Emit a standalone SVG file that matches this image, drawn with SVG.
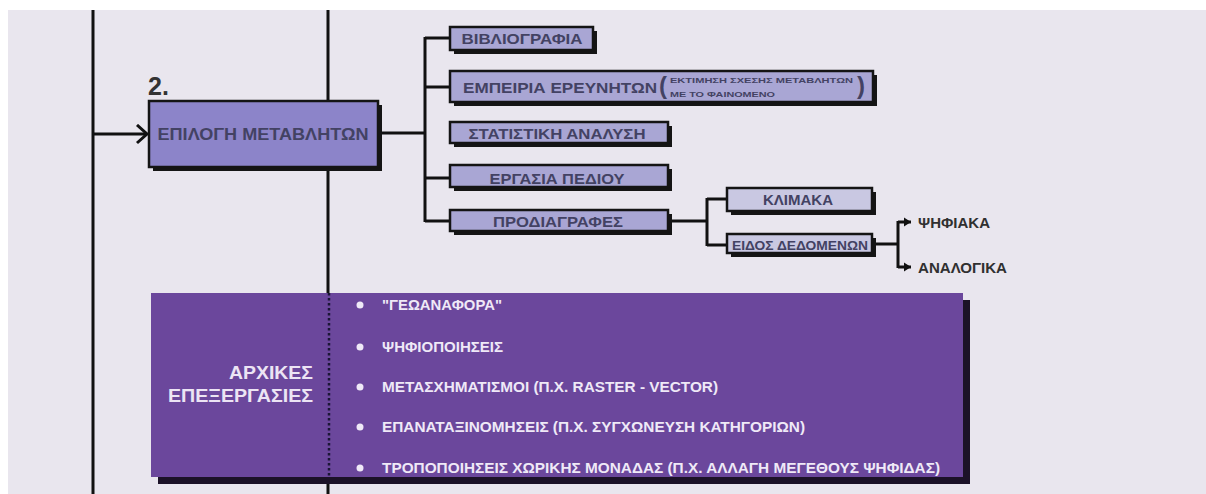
<svg xmlns="http://www.w3.org/2000/svg" width="1206" height="494" viewBox="0 0 1206 494">
  <style>
    text { font-family: "Liberation Sans", Arial, sans-serif; font-weight: bold; }
    .box { fill: #a9a6d4; stroke: #141414; stroke-width: 2.5; }
    .boxmain { fill: #8c84c9; stroke: #141414; stroke-width: 2.5; }
    .boxlight { fill: #c9c8e2; stroke: #141414; stroke-width: 2.5; }
    .shadow { fill: #151515; }
    .lbl { fill: #434263; text-anchor: middle; }
    .out { fill: #303030; }
    .wire { fill: none; stroke: #111; stroke-width: 3; }
    .item { fill: #efe9f7; font-size: 14px; }
    .bullet { fill: #efe9f7; }
  </style>
  <defs>
    <marker id="chev" markerUnits="userSpaceOnUse" markerWidth="16" markerHeight="22" refX="12" refY="10" orient="auto">
      <path d="M2,1 L12,10 L2,19" fill="none" stroke="#111" stroke-width="3"/>
    </marker>
    <marker id="tri" markerUnits="userSpaceOnUse" markerWidth="10" markerHeight="10" refX="7" refY="5" orient="auto">
      <path d="M0,0.5 L7,5 L0,9.5 Z" fill="#111"/>
    </marker>
  </defs>

  <rect x="0" y="0" width="1206" height="494" fill="#ffffff"/>
  <rect x="8" y="10" width="1198" height="484" fill="#e9e6ee"/>

  <g id="connectors">
    <line class="wire" x1="93" y1="10" x2="93" y2="494"/>
    <line class="wire" x1="328" y1="10" x2="328" y2="494"/>
    <line class="wire" x1="93" y1="134" x2="147" y2="134" marker-end="url(#chev)"/>
    <line class="wire" x1="378" y1="133" x2="425" y2="133"/>
    <line class="wire" x1="425" y1="37" x2="425" y2="222"/>
    <line class="wire" x1="425" y1="38" x2="450" y2="38"/>
    <line class="wire" x1="425" y1="87" x2="450" y2="87"/>
    <line class="wire" x1="425" y1="178" x2="450" y2="178"/>
    <line class="wire" x1="425" y1="221" x2="450" y2="221"/>
    <line class="wire" x1="668" y1="221" x2="707" y2="221"/>
    <line class="wire" x1="707" y1="198" x2="707" y2="246"/>
    <line class="wire" x1="707" y1="199" x2="727" y2="199"/>
    <line class="wire" x1="707" y1="245" x2="727" y2="245"/>
    <line class="wire" x1="872" y1="244" x2="898" y2="244"/>
    <line class="wire" x1="898" y1="221" x2="898" y2="268"/>
    <line class="wire" x1="898" y1="222" x2="911" y2="222" marker-end="url(#tri)"/>
    <line class="wire" x1="898" y1="267" x2="911" y2="267" marker-end="url(#tri)"/>
  </g>

  <g id="step2">
    <text x="148" y="95" font-size="25" fill="#333">2.</text>
  </g>

  <g id="epilogi">
    <rect class="shadow" x="153" y="105" width="229" height="66"/>
    <rect class="boxmain" x="149" y="101" width="229" height="66"/>
    <text class="lbl" x="263" y="140" font-size="17" textLength="211" lengthAdjust="spacingAndGlyphs">ΕΠΙΛΟΓΗ ΜΕΤΑΒΛΗΤΩΝ</text>
  </g>

  <g id="vivliografia">
    <rect class="shadow" x="454" y="31" width="143" height="23"/>
    <rect class="box" x="450" y="27" width="143" height="23"/>
    <text class="lbl" x="522" y="44" font-size="15" textLength="121" lengthAdjust="spacingAndGlyphs">ΒΙΒΛΙΟΓΡΑΦΙΑ</text>
  </g>

  <g id="empeiria">
    <rect class="shadow" x="454" y="75" width="423" height="31"/>
    <rect class="box" x="450" y="71" width="423" height="31"/>
    <text class="lbl" x="560" y="92.5" font-size="15.5" textLength="194" lengthAdjust="spacingAndGlyphs">ΕΜΠΕΙΡΙΑ ΕΡΕΥΝΗΤΩΝ</text>
    <text class="lbl" x="663" y="94" font-size="24">(</text>
    <text x="670" y="83" font-size="8" fill="#434263" textLength="183" lengthAdjust="spacingAndGlyphs">ΕΚΤΙΜΗΣΗ ΣΧΕΣΗΣ ΜΕΤΑΒΛΗΤΩΝ</text>
    <text x="670" y="97" font-size="8" fill="#434263" textLength="105" lengthAdjust="spacingAndGlyphs">ΜΕ ΤΟ ΦΑΙΝΟΜΕΝΟ</text>
    <text class="lbl" x="861" y="94" font-size="24">)</text>
  </g>

  <g id="statistiki">
    <rect class="shadow" x="454" y="126" width="218" height="21"/>
    <rect class="box" x="450" y="122" width="218" height="21"/>
    <text class="lbl" x="557" y="138.5" font-size="15.5" textLength="177" lengthAdjust="spacingAndGlyphs">ΣΤΑΤΙΣΤΙΚΗ ΑΝΑΛΥΣΗ</text>
  </g>

  <g id="ergasia">
    <rect class="shadow" x="454" y="169" width="218" height="22"/>
    <rect class="box" x="450" y="165" width="218" height="22"/>
    <text class="lbl" x="557" y="183.5" font-size="15.5" textLength="135" lengthAdjust="spacingAndGlyphs">ΕΡΓΑΣΙΑ ΠΕΔΙΟΥ</text>
  </g>

  <g id="prodiagrafes">
    <rect class="shadow" x="454" y="214" width="218" height="21"/>
    <rect class="box" x="450" y="210" width="218" height="21"/>
    <text class="lbl" x="558" y="226.5" font-size="15.5" textLength="130" lengthAdjust="spacingAndGlyphs">ΠΡΟΔΙΑΓΡΑΦΕΣ</text>
  </g>

  <g id="klimaka">
    <rect class="shadow" x="731" y="192" width="145" height="23"/>
    <rect class="boxlight" x="727" y="188" width="145" height="23"/>
    <text class="lbl" x="798" y="205" font-size="14" textLength="70" lengthAdjust="spacingAndGlyphs">ΚΛΙΜΑΚΑ</text>
  </g>

  <g id="eidos">
    <rect class="shadow" x="731" y="238" width="145" height="19"/>
    <rect class="boxlight" x="727" y="234" width="145" height="19"/>
    <text class="lbl" x="800" y="250" font-size="12.5" textLength="136" lengthAdjust="spacingAndGlyphs">ΕΙΔΟΣ ΔΕΔΟΜΕΝΩΝ</text>
  </g>

  <g id="psifiaka">
    <text class="out" x="918" y="228" font-size="14.5" textLength="72" lengthAdjust="spacingAndGlyphs">ΨΗΦΙΑΚΑ</text>
  </g>
  <g id="analogika">
    <text class="out" x="918" y="272.5" font-size="14.5" textLength="89" lengthAdjust="spacingAndGlyphs">ΑΝΑΛΟΓΙΚΑ</text>
  </g>

  <g id="arxikes">
    <rect x="158" y="300" width="812" height="184" fill="#1c1228"/>
    <rect x="151" y="293" width="812" height="184" fill="#6b479c"/>
    <line x1="329" y1="293" x2="329" y2="477" stroke="#1a1535" stroke-width="2.5" stroke-dasharray="2.5,2.5"/>
    <text x="313" y="379" font-size="19" fill="#ece4f4" text-anchor="end" textLength="84" lengthAdjust="spacingAndGlyphs">ΑΡΧΙΚΕΣ</text>
    <text x="313" y="402" font-size="19" fill="#ece4f4" text-anchor="end" textLength="145" lengthAdjust="spacingAndGlyphs">ΕΠΕΞΕΡΓΑΣΙΕΣ</text>
    <circle class="bullet" cx="360" cy="305" r="3.5"/>
    <circle class="bullet" cx="360" cy="347" r="3.5"/>
    <circle class="bullet" cx="360" cy="387" r="3.5"/>
    <circle class="bullet" cx="360" cy="427" r="3.5"/>
    <circle class="bullet" cx="360" cy="468" r="3.5"/>
    <text class="item" x="382" y="310" textLength="120" lengthAdjust="spacingAndGlyphs">"ΓΕΩΑΝΑΦΟΡΑ"</text>
    <text class="item" x="382" y="352" textLength="121" lengthAdjust="spacingAndGlyphs">ΨΗΦΙΟΠΟΙΗΣΕΙΣ</text>
    <text class="item" x="382" y="392" textLength="336" lengthAdjust="spacingAndGlyphs">ΜΕΤΑΣΧΗΜΑΤΙΣΜΟΙ (Π.Χ. RASTER - VECTOR)</text>
    <text class="item" x="382" y="432" textLength="423" lengthAdjust="spacingAndGlyphs">ΕΠΑΝΑΤΑΞΙΝΟΜΗΣΕΙΣ (Π.Χ. ΣΥΓΧΩΝΕΥΣΗ ΚΑΤΗΓΟΡΙΩΝ)</text>
    <text class="item" x="382" y="473" textLength="558" lengthAdjust="spacingAndGlyphs">ΤΡΟΠΟΠΟΙΗΣΕΙΣ ΧΩΡΙΚΗΣ ΜΟΝΑΔΑΣ (Π.Χ. ΑΛΛΑΓΗ ΜΕΓΕΘΟΥΣ ΨΗΦΙΔΑΣ)</text>
  </g>
</svg>
